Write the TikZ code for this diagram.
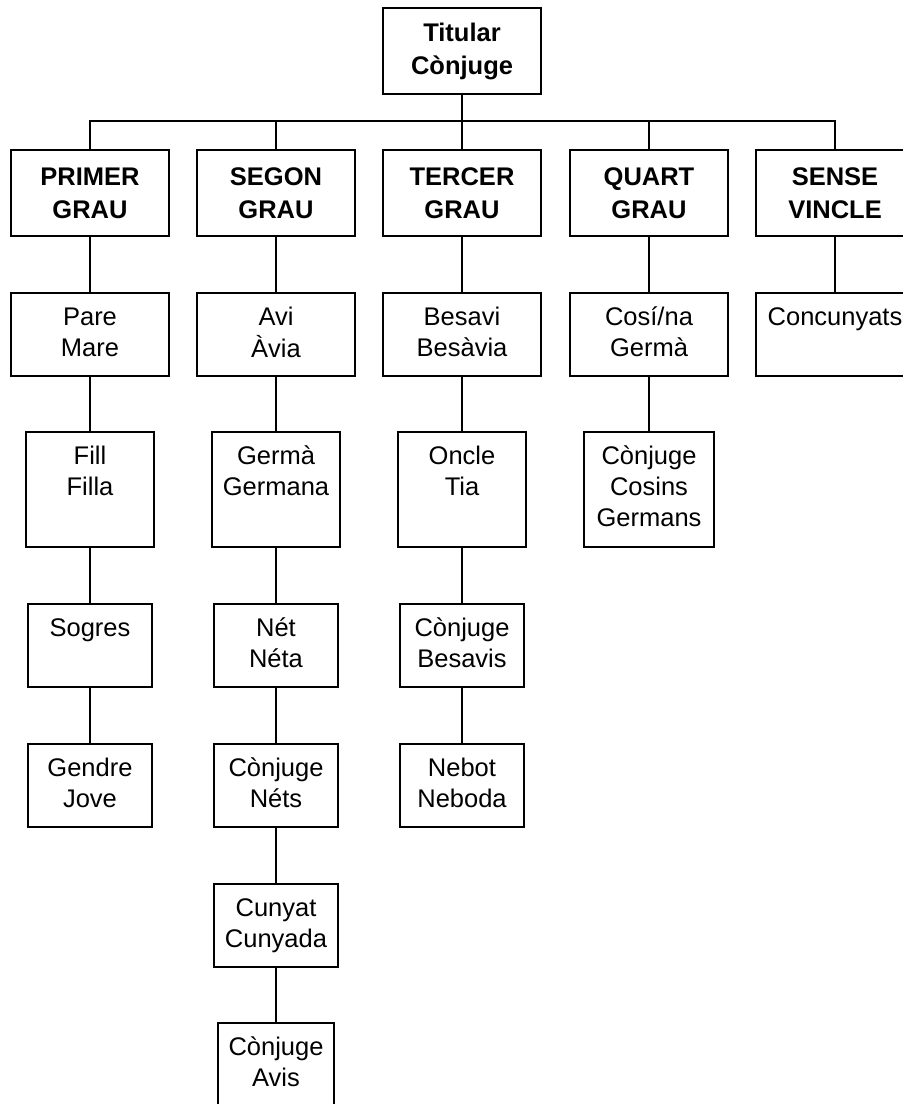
\documentclass[tikz,border=0pt]{standalone}
\usepackage{fontspec}
\setmainfont{Liberation Sans}
\usepackage{tikz}
\usetikzlibrary{positioning}
\tikzset{
  tree-line/.style={line width=1.8pt, draw=black},
  grau-node/.style={draw=black, line width=1.8pt, minimum width=157.5pt,
    minimum height=86.5pt, inner sep=0pt, align=center,
    font=\fontsize{25.5}{33}\selectfont\bfseries},
  kin-box/.style={draw=black, line width=1.8pt, minimum width=157.5pt,
    minimum height=83.5pt, inner sep=0pt},
  kin-text/.style={anchor=north, inner sep=0pt, yshift=-11.4pt, align=center,
    font=\fontsize{25.5}{31}\selectfont}
}
\begin{document}
\begin{tikzpicture}[x=1pt, y=-1pt]
\path[use as bounding box, clip] (0,0) rectangle (903,1104);
% root and degree headers
\node[grau-node] (titular) at (462,51) {Titular\\Cònjuge};
\node[grau-node] (primer) at (90,193) {PRIMER\\GRAU};
\node[grau-node] (segon) at (276,193) {SEGON\\GRAU};
\node[grau-node] (tercer) at (462,193) {TERCER\\GRAU};
\node[grau-node] (quart) at (649,193) {QUART\\GRAU};
\node[grau-node] (sense) at (835,193) {SENSE\\VINCLE};
\coordinate (bus) at (462,121);
\draw[tree-line] (titular) -- (bus);
\foreach \grau in {primer,segon,tercer,quart,sense}
  \draw[tree-line] (bus) -| (\grau.north);
% second row
\node[kin-box, label={[kin-text]north:{\strut Pare\\Mare}}] (pares) at (90,334.5) {};
\node[kin-box, label={[kin-text]north:{\strut Avi\\Àvia}}] (avis) at (276,334.5) {};
\node[kin-box, label={[kin-text]north:{\strut Besavi\\Besàvia}}] (besavis) at (462,334.5) {};
\node[kin-box, label={[kin-text]north:{\strut Cosí/na\\Germà}}] (cosins) at (649,334.5) {};
\node[kin-box, label={[kin-text]north:{\strut Concunyats}}] (concunyats) at (835,334.5) {};
% third row
\node[kin-box, minimum width=128.5pt, minimum height=115.5pt,
  label={[kin-text]north:{\strut Fill\\Filla}}] (fills) at (90,489.5) {};
\node[kin-box, minimum width=128.5pt, minimum height=115.5pt,
  label={[kin-text]north:{\strut Germà\\Germana}}] (germans) at (276,489.5) {};
\node[kin-box, minimum width=128.5pt, minimum height=115.5pt,
  label={[kin-text]north:{\strut Oncle\\Tia}}] (oncles) at (462,489.5) {};
\node[kin-box, minimum width=129.5pt, minimum height=115.5pt,
  label={[kin-text]north:{\strut Cònjuge\\Cosins\\Germans}}] (conjcosins) at (649,489.5) {};
% fourth row
\node[kin-box, minimum width=124.5pt,
  label={[kin-text]north:{\strut Sogres}}] (sogres) at (90,645.5) {};
\node[kin-box, minimum width=124.5pt,
  label={[kin-text]north:{\strut Nét\\Néta}}] (nets) at (276,645.5) {};
\node[kin-box, minimum width=124.5pt,
  label={[kin-text]north:{\strut Cònjuge\\Besavis}}] (conjbesavis) at (462,645.5) {};
% fifth row
\node[kin-box, minimum width=124.5pt,
  label={[kin-text]north:{\strut Gendre\\Jove}}] (gendres) at (90,785.5) {};
\node[kin-box, minimum width=124.5pt,
  label={[kin-text]north:{\strut Cònjuge\\Néts}}] (conjnets) at (276,785.5) {};
\node[kin-box, minimum width=124.5pt,
  label={[kin-text]north:{\strut Nebot\\Neboda}}] (nebots) at (462,785.5) {};
% last rows of the second degree
\node[kin-box, minimum width=124.5pt,
  label={[kin-text]north:{\strut Cunyat\\Cunyada}}] (cunyats) at (276,925.5) {};
\node[kin-box, minimum width=116.5pt,
  label={[kin-text]north:{\strut Cònjuge\\Avis}}] (conjavis) at (276,1064.5) {};
% columns
\draw[tree-line] (primer) -- (pares);
\draw[tree-line] (pares) -- (fills);
\draw[tree-line] (fills) -- (sogres);
\draw[tree-line] (sogres) -- (gendres);
\draw[tree-line] (segon) -- (avis);
\draw[tree-line] (avis) -- (germans);
\draw[tree-line] (germans) -- (nets);
\draw[tree-line] (nets) -- (conjnets);
\draw[tree-line] (conjnets) -- (cunyats);
\draw[tree-line] (cunyats) -- (conjavis);
\draw[tree-line] (tercer) -- (besavis);
\draw[tree-line] (besavis) -- (oncles);
\draw[tree-line] (oncles) -- (conjbesavis);
\draw[tree-line] (conjbesavis) -- (nebots);
\draw[tree-line] (quart) -- (cosins);
\draw[tree-line] (cosins) -- (conjcosins);
\draw[tree-line] (sense) -- (concunyats);
\end{tikzpicture}
\end{document}
